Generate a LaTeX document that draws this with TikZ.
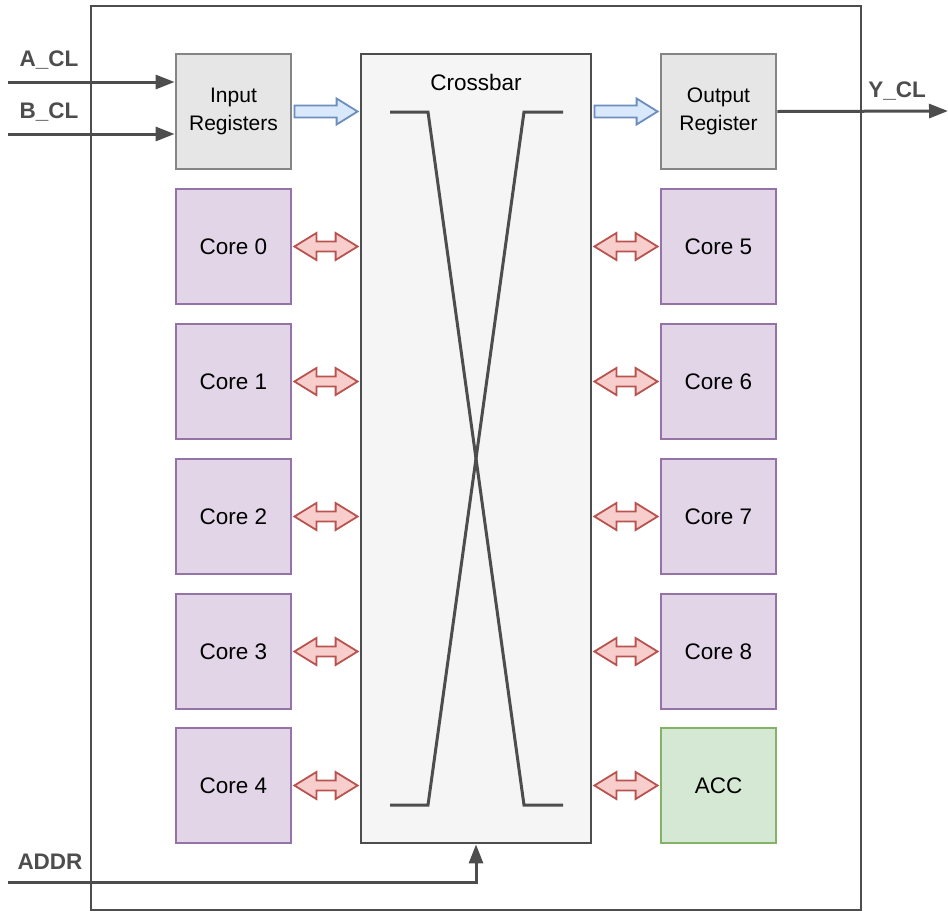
\documentclass[tikz,border=0pt]{standalone}
\usepackage{fontspec}
\setmainfont{Liberation Sans}
\usetikzlibrary{arrows.meta,calc}
\definecolor{linegray}{HTML}{4D4D4D}
\definecolor{reggray}{HTML}{E6E6E6}
\definecolor{regstroke}{HTML}{858585}
\definecolor{xbarfill}{HTML}{F5F5F5}
\definecolor{corefill}{HTML}{E1D5E7}
\definecolor{corestroke}{HTML}{9673A6}
\definecolor{accfill}{HTML}{D5E8D4}
\definecolor{accstroke}{HTML}{82B366}
\definecolor{bluefill}{HTML}{DAE8FC}
\definecolor{bluestroke}{HTML}{6C8EBF}
\definecolor{redfill}{HTML}{F8CECC}
\definecolor{redstroke}{HTML}{B85450}
\tikzset{
  box/.style={draw, line width=2.8pt, inner sep=0pt, minimum width=115pt, minimum height=115pt,
    align=center, font=\fontsize{22.5}{28}\selectfont},
  regbox/.style={box, fill=reggray, draw=regstroke, font=\fontsize{21}{28}\selectfont},
  corebox/.style={box, fill=corefill, draw=corestroke},
  accbox/.style={box, fill=accfill, draw=accstroke},
  wire/.style={draw=linegray, line width=3pt, -{Triangle[length=19pt,width=14pt]}},
  sig/.style={font=\bfseries\fontsize{22.5}{26}\selectfont, text=linegray},
  bluearr/.style={fill=bluefill, draw=bluestroke, line width=1.8pt, line join=miter},
  redarr/.style={fill=redfill, draw=redstroke, line width=1.8pt, line join=miter},
}
% single block arrow pointing right, from #1 to #2
\newcommand\blockarr[2]{\path[bluearr] let \p1=(#1), \p2=(#2) in
  (\x1,\y1+6pt) -- (\x2-21pt,\y1+6pt) -- (\x2-21pt,\y1+13pt) -- (\x2,\y1) --
  (\x2-21pt,\y1-13pt) -- (\x2-21pt,\y1-6pt) -- (\x1,\y1-6pt) -- cycle;}
% double-headed block arrow between #1 and #2
\newcommand\dblarr[2]{\path[redarr] let \p1=(#1), \p2=(#2) in
  (\x1,\y1) -- (\x1+22pt,\y1+13.5pt) -- (\x1+22pt,\y1+5pt) -- (\x2-22pt,\y1+5pt) --
  (\x2-22pt,\y1+13.5pt) -- (\x2,\y1) -- (\x2-22pt,\y1-13.5pt) -- (\x2-22pt,\y1-5pt) --
  (\x1+22pt,\y1-5pt) -- (\x1+22pt,\y1-13.5pt) -- cycle;}
\begin{document}
\begin{tikzpicture}[x=1pt,y=-1pt]
\useasboundingbox (0,0) rectangle (948,911);
% enclosing block
\draw[draw=linegray, line width=2.8pt] (91,6) rectangle (861,910);

% crossbar
\node[draw=linegray, fill=xbarfill, line width=2.8pt, minimum width=230pt, minimum height=789pt, inner sep=0pt]
  (xbar) at (476,448.5) {};
\node[font=\fontsize{22.5}{26}\selectfont] (xlabel) at (476,82) {Crossbar};
\draw[linegray, line width=3pt] (390,112) -- (428,112) -- (524,805) -- (563,805);
\draw[linegray, line width=3pt] (563,112) -- (524,112) -- (428,805) -- (390,805);

% registers
\node[regbox] (inreg) at (233.5,111.5) {Input\\Registers};
\node[regbox] (outreg) at (718.5,111.5) {Output\\Register};

% cores
\node[corebox] (c0) at (233.5,246.5) {Core 0};
\node[corebox] (c1) at (233.5,381.5) {Core 1};
\node[corebox] (c2) at (233.5,516.5) {Core 2};
\node[corebox] (c3) at (233.5,651.5) {Core 3};
\node[corebox] (c4) at (233.5,785.5) {Core 4};
\node[corebox] (c5) at (718.5,246.5) {Core 5};
\node[corebox] (c6) at (718.5,381.5) {Core 6};
\node[corebox] (c7) at (718.5,516.5) {Core 7};
\node[corebox] (c8) at (718.5,651.5) {Core 8};
\node[accbox] (acc) at (718.5,785.5) {ACC};

% data paths through the registers
\blockarr{$(inreg.east)+(2,0)$}{$(inreg.east -| xbar.west)+(-2,0)$}
\blockarr{$(xbar.east |- outreg.west)+(2,0)$}{$(outreg.west)+(-2,0)$}

% core <-> crossbar links
\foreach \c in {c0,c1,c2,c3,c4}
  \dblarr{$(\c.east)+(2,0)$}{$(\c.east -| xbar.west)+(-2,0)$};
\foreach \c in {c5,c6,c7,c8,acc}
  \dblarr{$(xbar.east |- \c.west)+(2,0)$}{$(\c.west)+(-2,0)$};

% external signals
\coordinate (ain) at (8,82);
\coordinate (bin) at (8,134);
\coordinate (yout) at (948,111);
\coordinate (addrin) at (8,882);
\draw[wire] (ain) -- (ain -| inreg.west);
\draw[wire] (bin) -- (bin -| inreg.west);
\draw[wire] (outreg.east) -- (yout);
\draw[wire] (addrin) -- (addrin -| xbar.south) -- (xbar.south);
\node[sig] (alabel) at (49,60) {A\_CL};
\node[sig] (blabel) at (49,112) {B\_CL};
\node[sig] (ylabel) at (897,91) {Y\_CL};
\node[sig] (addrlabel) at (50,862) {ADDR};
\end{tikzpicture}
\end{document}
